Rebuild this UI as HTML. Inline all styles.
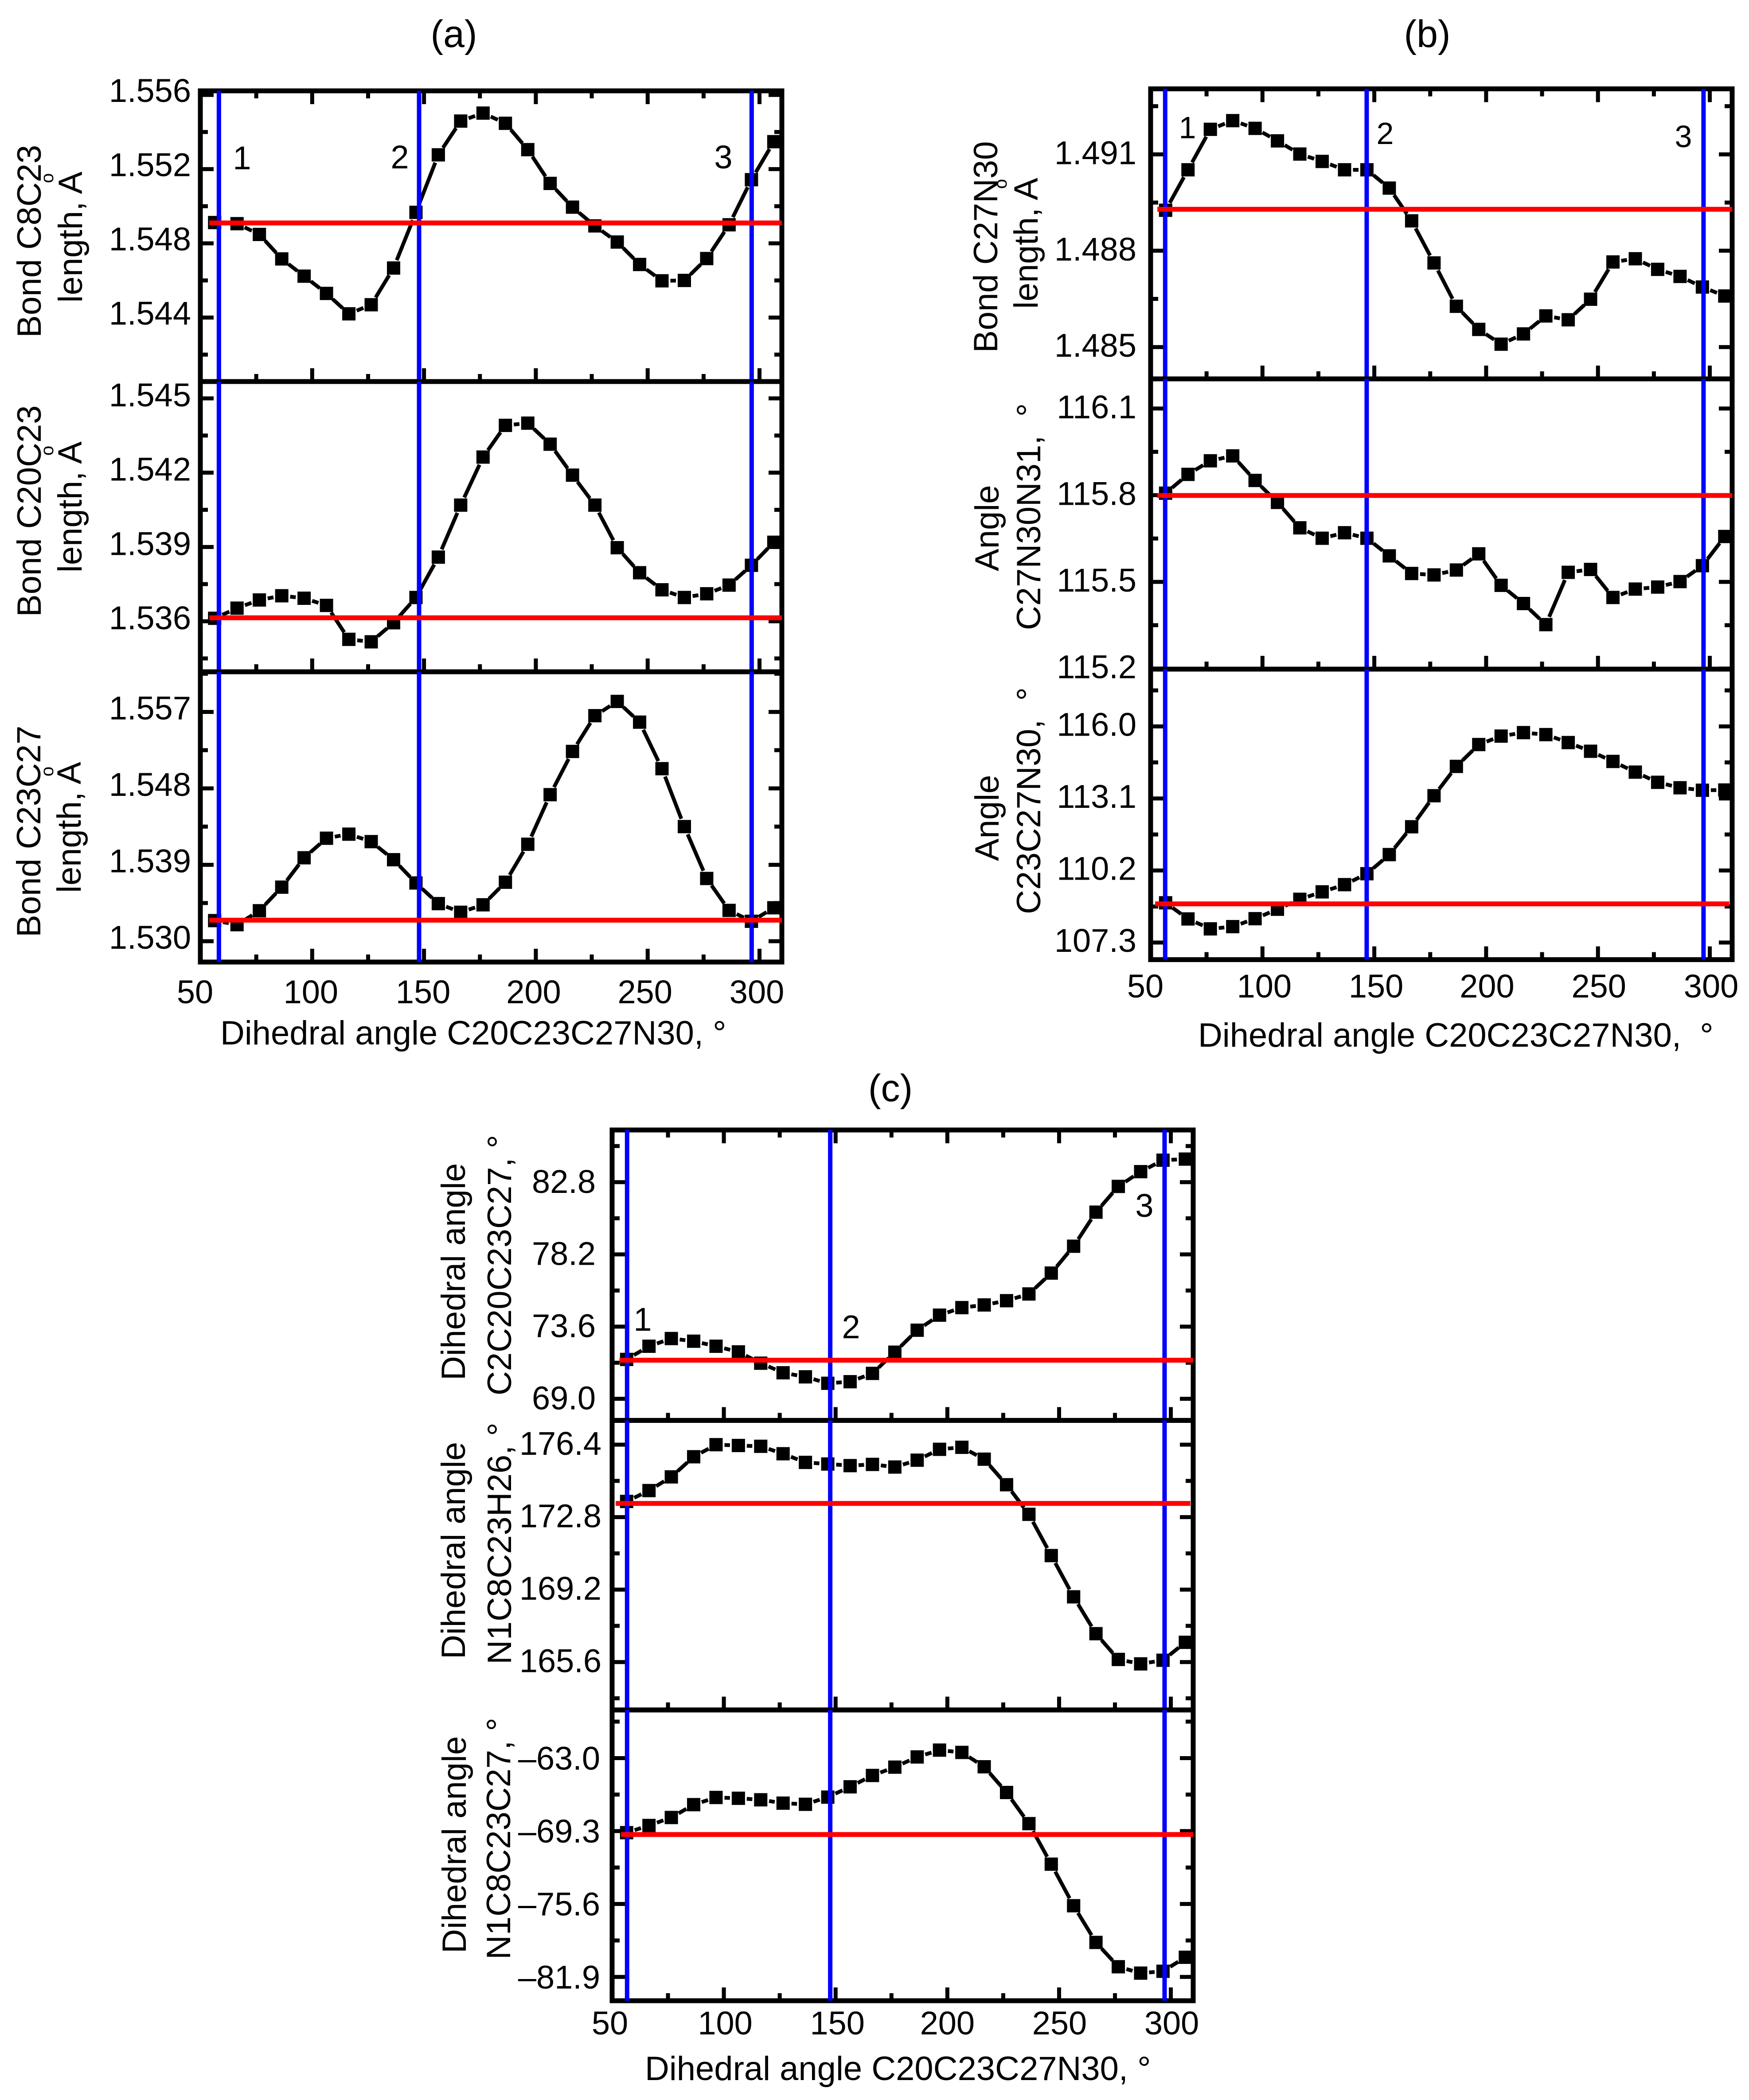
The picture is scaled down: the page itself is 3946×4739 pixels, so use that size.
<!DOCTYPE html>
<html lang="en">
<head>
<meta charset="utf-8">
<title>Bond lengths and angles versus dihedral angle C20C23C27N30</title>
<style>
html,body{margin:0;padding:0;background:#fff;}
svg{display:block;}
text{font-family:"Liberation Sans",Arial,sans-serif;fill:#000;white-space:pre;}
.t{font-size:86px;text-anchor:middle;}
.at{font-size:76px;}
.n{font-size:74px;text-anchor:middle;}
</style>
</head>
<body>
<svg id="figure" xmlns="http://www.w3.org/2000/svg" width="3946" height="4739" viewBox="0 0 3946 4739">
<rect x="0" y="0" width="3946" height="4739" fill="#fff"/>
<text class="t" x="1024" y="106">(a)</text>
<text class="t" x="3220" y="106">(b)</text>
<text class="t" x="2009" y="2485">(c)</text>

<g id="plots"></g>

<text class="at" transform="translate(92,762) rotate(-90)">Bond C8C23</text>
<text class="at" transform="translate(185,683) rotate(-90)">length, A</text>
<text font-size="40" text-anchor="middle" transform="translate(120,402) rotate(-90)">o</text>
<text class="at" transform="translate(92,1392) rotate(-90)">Bond C20C23</text>
<text class="at" transform="translate(184,1292) rotate(-90)">length, A</text>
<text font-size="40" text-anchor="middle" transform="translate(120,1017) rotate(-90)">o</text>
<text class="at" transform="translate(91,2115) rotate(-90)">Bond C23C27</text>
<text class="at" transform="translate(182,2015) rotate(-90)">length, A</text>
<text font-size="40" text-anchor="middle" transform="translate(120,1741) rotate(-90)">o</text>

<text class="at" transform="translate(2250,796) rotate(-90)">Bond C27N30</text>
<text class="at" transform="translate(2341,697) rotate(-90)">length, A</text>
<text font-size="40" text-anchor="middle" transform="translate(2271,415) rotate(-90)">o</text>
<text class="at" transform="translate(2253,1289) rotate(-90)">Angle</text>
<text class="at" transform="translate(2347,1422) rotate(-90)">C27N30N31,  °</text>
<text class="at" transform="translate(2253,1943) rotate(-90)">Angle</text>
<text class="at" transform="translate(2347,2063) rotate(-90)">C23C27N30,  °</text>

<text class="at" transform="translate(1049,3115) rotate(-90)">Dihedral angle</text>
<text class="at" transform="translate(1153,3149) rotate(-90)">C2C20C23C27, °</text>
<text class="at" transform="translate(1049,3744) rotate(-90)">Dihedral angle</text>
<text class="at" transform="translate(1153,3756) rotate(-90)">N1C8C23H26, °</text>
<text class="at" transform="translate(1051,4408) rotate(-90)">Dihedral angle</text>
<text class="at" transform="translate(1151,4422) rotate(-90)">N1C8C23C27, °</text>

<text class="at" x="497" y="2357">Dihedral angle C20C23C27N30, °</text>
<text class="at" x="2703" y="2362">Dihedral angle C20C23C27N30,  °</text>
<text class="at" x="1455" y="4694">Dihedral angle C20C23C27N30, °</text>

<text class="n" x="546" y="382">1</text>
<text class="n" x="902" y="380">2</text>
<text class="n" x="1632" y="380">3</text>
<text class="n" x="2679" y="312" style="font-size:70px">1</text>
<text class="n" x="3125" y="325" style="font-size:70px">2</text>
<text class="n" x="3798" y="332" style="font-size:70px">3</text>
<text class="n" x="1450" y="3003">1</text>
<text class="n" x="1920" y="3020">2</text>
<text class="n" x="2582" y="2746">3</text>
</svg>

<script>
// Shared x axis
const xTicksMajor = [50,100,150,200,250,300];
const xTicksMinor = [75,125,175,225,275];
const xDomain = [50,310];

// Categories (dihedral angle C20C23C27N30)
const anglesA = [56.4,66.4,76.4,86.4,96.4,106.4,116.4,126.4,136.4,146.4,156.4,166.4,176.4,186.4,196.4,206.4,216.4,226.4,236.4,246.4,256.4,266.4,276.4,286.4,296.4,306.4];
const anglesB = [56.7,66.7,76.7,86.7,96.7,106.7,116.7,126.7,136.7,146.7,156.7,166.7,176.7,186.7,196.7,206.7,216.7,226.7,236.7,246.7,256.7,266.7,276.7,286.7,296.7,306.7];
const anglesC = [56.5,66.5,76.5,86.5,96.5,106.5,116.5,126.5,136.5,146.5,156.5,166.5,176.5,186.5,196.5,206.5,216.5,226.5,236.5,246.5,256.5,266.5,276.5,286.5,296.5,306.5];

// Conformer positions (blue vertical lines)
const conformersA = [58.3,147.8,296.5];
const conformersB = [56.5,146.6,297.2];
const conformersC = [56.7,147.6,297.2];

// Series values
const bondC8C23 = [1.54912,1.54906,1.54848,1.54716,1.54623,1.5453,1.5442,1.54469,1.54667,1.54967,1.55277,1.55459,1.55502,1.55447,1.55305,1.55123,1.54995,1.54894,1.54807,1.54686,1.54598,1.546,1.54718,1.549,1.55143,1.55348];
const bondC20C23 = [1.53612,1.53653,1.53686,1.53703,1.53693,1.53664,1.53527,1.53517,1.53594,1.53696,1.53859,1.54069,1.54263,1.54391,1.544,1.54315,1.5419,1.54069,1.53897,1.53796,1.53727,1.53696,1.53711,1.53746,1.53826,1.53919];
const bondC23C27 = [1.53243,1.53195,1.53359,1.53637,1.53983,1.54213,1.54261,1.54173,1.5396,1.53686,1.53443,1.53341,1.53429,1.53695,1.54142,1.54726,1.55235,1.55656,1.55824,1.5558,1.55032,1.5435,1.53739,1.53363,1.53235,1.53394];
const bondC27N30 = [1.48926,1.49052,1.49178,1.49205,1.49181,1.49142,1.49101,1.49078,1.49052,1.49052,1.48995,1.48893,1.48762,1.48627,1.48555,1.48509,1.48541,1.48597,1.48585,1.48649,1.48765,1.48775,1.48742,1.4872,1.48687,1.48659];
const angleC27N30N31 = [115.807,115.872,115.919,115.936,115.851,115.775,115.687,115.651,115.67,115.651,115.59,115.529,115.524,115.541,115.597,115.488,115.425,115.352,115.533,115.543,115.446,115.475,115.482,115.501,115.556,115.657];
const angleC23C27N30 = [108.9,108.25,107.85,107.94,108.26,108.64,109.04,109.34,109.63,110.07,110.84,111.96,113.21,114.39,115.27,115.61,115.75,115.67,115.35,115,114.59,114.16,113.75,113.53,113.43,113.44];
const dihedralC2C20C23C27 = [71.51,72.35,72.84,72.67,72.35,71.99,71.27,70.66,70.4,69.99,70.09,70.62,71.97,73.37,74.33,74.81,74.98,75.25,75.68,77.01,78.72,80.89,82.53,83.47,84.2,84.27];
const dihedralN1C8C23H26 = [173.58,174.12,174.8,175.8,176.4,176.36,176.32,175.95,175.52,175.44,175.36,175.42,175.29,175.63,176.17,176.27,175.68,174.41,172.94,170.89,168.84,167.01,165.73,165.51,165.69,166.58];
const dihedralN1C8C23C27 = [-69.44,-68.82,-68.13,-67.02,-66.4,-66.47,-66.6,-66.89,-66.99,-66.37,-65.48,-64.5,-63.78,-62.9,-62.31,-62.51,-63.75,-65.97,-68.66,-72.16,-75.75,-78.92,-81.02,-81.57,-81.41,-80.2];

// Reference levels (red horizontal lines)
const refA1 = 1.5491, refA2 = 1.53614, refA3 = 1.53248;
const refB1 = 1.48929, refB2 = 115.799, refB3 = 108.855;
const refC1 = 71.46, refC2 = 173.48, refC3 = -69.6;

// Y tick values
const yMajorA1 = [1.544,1.548,1.552,1.556];
const yMinorA1 = [1.542,1.546,1.55,1.554];
const yMajorA2 = [1.536,1.539,1.542,1.545];
const yMinorA2 = [1.5345,1.5375,1.5405,1.5435];
const yMajorA3 = [1.53,1.539,1.548,1.557];
const yMinorA3 = [1.5345,1.5435,1.5525,1.5615];
const yMajorB1 = [1.485,1.488,1.491];
const yMinorB1 = [1.4865,1.4895,1.4925];
const yMajorB2 = [115.2,115.5,115.8,116.1];
const yMinorB2 = [115.35,115.65,115.95];
const yMajorB3 = [107.3,110.2,113.1,116];
const yMinorB3 = [108.75,111.65,114.55,117.45];
const yMajorC1 = [69,73.6,78.2,82.8];
const yMinorC1 = [71.3,75.9,80.5,85.1];
const yMajorC2 = [165.6,169.2,172.8,176.4];
const yMinorC2 = [163.8,167.4,171,174.6];
const yMajorC3 = [-81.9,-75.6,-69.3,-63];
const yMinorC3 = [-78.75,-72.45,-66.15,-59.85];

// Column layout
const colA = {left:452, right:1764, labelBase:2264, nudge:{50:-12,100:-3,150:-2,200:-5,250:-6,300:-6}, labelRight:431, angles:anglesA, conformers:conformersA};
const colB = {left:2596, right:3908, labelBase:2251, nudge:{50:-12,100:4,150:4,200:2,250:2,300:3}, labelRight:2564, angles:anglesB, conformers:conformersB};
const colC = {left:1381, right:2692, labelBase:4591, nudge:{50:-5,100:3,150:4,200:0,250:1,300:2}, labelRight:1354, angles:anglesC, conformers:conformersC};

const panels = [
 {id:'a1',col:colA,top:205,bottom:861,dom:[1.54055,1.55622],vals:bondC8C23,ref:refA1,major:yMajorA1,minor:yMinorA1,dec:3,off:-10,redFrom:54,redTo:310,first:true},
 {id:'a2',col:colA,top:861,bottom:1516,dom:[1.53396,1.54568],vals:bondC20C23,ref:refA2,major:yMajorA2,minor:yMinorA2,dec:3,off:-8,redFrom:54,redTo:310},
 {id:'a3',col:colA,top:1516,bottom:2171,dom:[1.52755,1.56173],vals:bondC23C27,ref:refA3,major:yMajorA3,minor:yMinorA3,dec:3,off:-9,redFrom:54,redTo:310,last:true},
 {id:'b1',col:colB,top:200.5,bottom:855,dom:[1.48401,1.49304],vals:bondC27N30,ref:refB1,major:yMajorB1,minor:yMinorB1,dec:3,off:-4,redFrom:53,redTo:310,first:true},
 {id:'b2',col:colB,top:855,bottom:1510,dom:[115.198,116.2025],vals:angleC27N30N31,ref:refB2,major:yMajorB2,minor:yMinorB2,dec:1,off:-4,redFrom:53,redTo:310},
 {id:'b3',col:colB,top:1510,bottom:2165.6,dom:[106.611,118.306],vals:angleC23C27N30,ref:refB3,major:yMajorB3,minor:yMinorB3,dec:1,off:-5,redFrom:52,redTo:308.7,last:true},
 {id:'c1',col:colC,top:2550,bottom:3205.4,dom:[67.625,86.124],vals:dihedralC2C20C23C27,ref:refC1,major:yMajorC1,minor:yMinorC1,dec:1,off:-2,labelRight:1344,redFrom:53.3,redTo:310,first:true},
 {id:'c2',col:colC,top:3205.4,bottom:3858.8,dom:[163.22,177.606],vals:dihedralN1C8C23H26,ref:refC2,major:yMajorC2,minor:yMinorC2,dec:1,off:-3,labelRight:1357,redFrom:51.6,redTo:308.7},
 {id:'c3',col:colC,top:3858.8,bottom:4515,dom:[-83.955,-58.842],vals:dihedralN1C8C23C27,ref:refC3,major:yMajorC3,minor:yMinorC3,dec:1,off:0,labelRight:1354,redFrom:54,redTo:310,last:true}
];

const NS = 'http://www.w3.org/2000/svg';
const STROKE = 11, TICK = 9, MAJOR_LEN = 30, MINOR_LEN = 17, MARK = 30, GAP = 19, LINE = 8.5;
const TICK_FONT = 74;
const root = document.getElementById('plots');

function mk(tag, attrs, parent){
  const el = document.createElementNS(NS, tag);
  for (const k in attrs) el.setAttribute(k, attrs[k]);
  parent.appendChild(el);
  return el;
}

panels.forEach(function(p){
  const c = p.col;
  const xOf = function(v){ return c.left + (v - xDomain[0]) / (xDomain[1] - xDomain[0]) * (c.right - c.left); };
  const yOf = function(v){ return p.top + (p.dom[1] - v) / (p.dom[1] - p.dom[0]) * (p.bottom - p.top); };

  const g = mk('g', {}, root);
  
  

  // y ticks on both sides
  [[p.major, MAJOR_LEN],[p.minor, MINOR_LEN]].forEach(function(set){
    set[0].forEach(function(v){
      const y = yOf(v);
      const tl = mk('line', {x1:c.left, x2:c.left + set[1], y1:y, y2:y, stroke:'#000', 'stroke-width':TICK}, g);
      
      
      const tr = mk('line', {x1:c.right, x2:c.right - set[1], y1:y, y2:y, stroke:'#000', 'stroke-width':TICK}, g);
      
      
    });
  });

  // x ticks
  [[xTicksMajor, MAJOR_LEN],[xTicksMinor, MINOR_LEN]].forEach(function(set){
    set[0].forEach(function(v){
      const x = xOf(v);
      const tb = mk('line', {x1:x, x2:x, y1:p.bottom, y2:p.bottom - set[1], stroke:'#000', 'stroke-width':TICK}, g);
      
      
      if (p.first) {
        const tt = mk('line', {x1:x, x2:x, y1:p.top, y2:p.top + set[1], stroke:'#000', 'stroke-width':TICK}, g);
        
        
      }
    });
  });

  // frame
  const frame = mk('rect', {x:c.left, y:p.top, width:c.right - c.left, height:p.bottom - p.top, fill:'none', stroke:'#000', 'stroke-width':STROKE}, g);
  
  

  // y tick labels
  p.major.forEach(function(v){
    const lab = mk('text', {x:p.labelRight || c.labelRight, y:yOf(v) + p.off + 26, 'font-size':TICK_FONT, 'text-anchor':'end'}, g);
    
    
    lab.textContent = v.toFixed(p.dec).replace('-', '\u2013');
  });

  // x tick labels
  if (p.last) {
    xTicksMajor.forEach(function(v){
      const lab = mk('text', {x:xOf(v) + c.nudge[v], y:c.labelBase, 'font-size':TICK_FONT, 'text-anchor':'middle'}, g);
      
      
      lab.textContent = String(v);
    });
  }

  // series line, broken around each marker
  let d = '';
  for (let i = 0; i < p.vals.length - 1; i++) {
    const x1 = xOf(c.angles[i]), y1 = yOf(p.vals[i]);
    const x2 = xOf(c.angles[i + 1]), y2 = yOf(p.vals[i + 1]);
    const len = Math.hypot(x2 - x1, y2 - y1);
    const ux = (x2 - x1) / len, uy = (y2 - y1) / len;
    d += 'M' + (x1 + ux * GAP).toFixed(1) + ' ' + (y1 + uy * GAP).toFixed(1) +
         'L' + (x2 - ux * GAP).toFixed(1) + ' ' + (y2 - uy * GAP).toFixed(1);
  }
  const path = mk('path', {d:d, fill:'none', stroke:'#000', 'stroke-width':LINE}, g);
  
  

  // markers
  p.vals.forEach(function(v, i){
    const m = mk('rect', {x:xOf(c.angles[i]) - MARK / 2, y:yOf(v) - MARK / 2, width:MARK, height:MARK, fill:'#000'}, g);
    
    
  });

  // conformer lines
  c.conformers.forEach(function(v){
    const x = xOf(v);
    const b = mk('line', {x1:x, x2:x, y1:p.top, y2:p.bottom, stroke:'#0000ff', 'stroke-width':10}, g);
    
    
  });

  // reference line
  const r = mk('line', {x1:xOf(p.redFrom), x2:xOf(p.redTo), y1:yOf(p.ref), y2:yOf(p.ref), stroke:'#ff0000', 'stroke-width':11}, g);
  
  
});
</script>
</body>
</html>
